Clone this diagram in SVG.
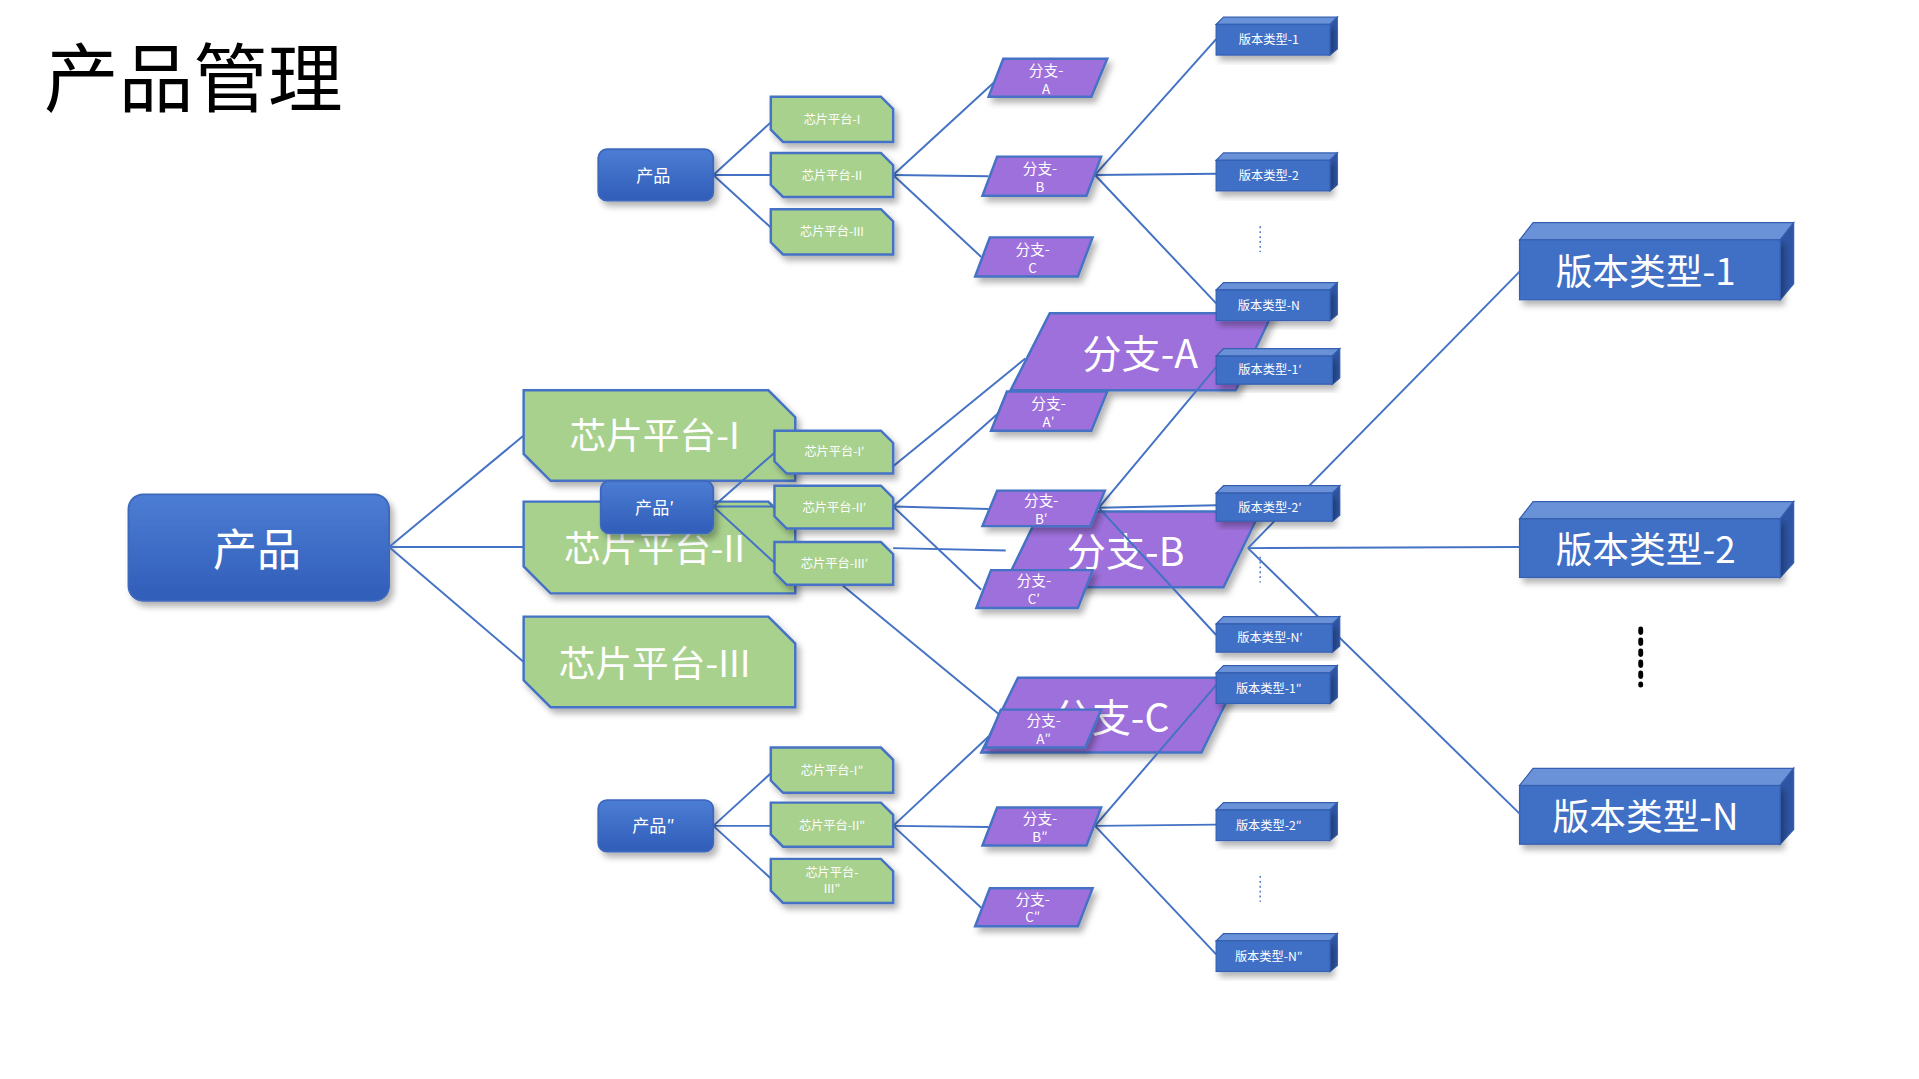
<svg xmlns="http://www.w3.org/2000/svg" width="1919" height="1079" viewBox="0 0 1919 1079">
<defs>
<linearGradient id="gb" x1="0" y1="0" x2="0" y2="1"><stop offset="0" stop-color="#4D7DD4"/><stop offset="1" stop-color="#2F5DB8"/></linearGradient>
<filter id="sh" x="-10%" y="-10%" width="130%" height="140%"><feDropShadow dx="3" dy="4" stdDeviation="2.5" flood-color="#000" flood-opacity="0.3"/></filter>
</defs>
<style>
text{font-family:"Noto Sans CJK SC","Noto Sans",sans-serif;fill:#fff;text-anchor:middle;dominant-baseline:central}
.g{fill:#A9D18E;stroke:#4472C4;stroke-width:2;filter:url(#sh)}
.p{fill:#9E70DC;stroke:#4472C4;stroke-width:2;filter:url(#sh)}
.b{fill:url(#gb);stroke:#3C67BC;stroke-width:1.5;filter:url(#sh)}
.f{fill:#3F6FC6;stroke:#355FB0;stroke-width:1}
.t{fill:#6A92D8;stroke:#355FB0;stroke-width:1}
.s{fill:#2E55A4;stroke:#355FB0;stroke-width:1}
.c line{stroke:#4472C4;stroke-width:1.6}
.d{stroke:#4472C4;stroke-width:1.2;stroke-dasharray:1.5 2.5}
</style>
<rect width="1919" height="1079" fill="#fff"/>
<g transform="scale(1.2235)">
<text x="36" y="60" style="fill:#000;font-size:61px;text-anchor:start">产品管理</text>

<!-- big nodes -->
<g id="prod"><rect class="b" x="105" y="404" width="213" height="87" rx="12"/><text x="210" y="447" font-size="36">产品</text></g>
<g id="chipI"><polygon class="g" points="428,319 628,319 650,341 650,393 450,393 428,371"/><text x="535" y="354" font-size="30">芯片平台-I</text></g>
<g id="chipII"><polygon class="g" points="428,410 628,410 650,432 650,485 450,485 428,463"/><text x="535" y="446" font-size="30">芯片平台-II</text></g>
<g id="chipIII"><polygon class="g" points="428,504 628,504 650,526 650,578 450,578 428,556"/><text x="535" y="540" font-size="30">芯片平台-III</text></g>
<g id="brA"><polygon class="p" points="858,256 1040,256 1010,319 826,319"/><text x="932" y="287" font-size="32">分支-A</text></g>
<g id="brB"><polygon class="p" points="850,418 1030,418 1000,480 820,480"/><text x="920" y="449" font-size="32">分支-B</text></g>
<g id="brC"><polygon class="p" points="832,554 1012,554 982,615 802,615"/><text x="908" y="584" font-size="32">分支-C</text></g>
<g id="v1"><polygon class="t" points="1242,196 1455,196 1466,182 1253,182"/><polygon class="s" points="1455,196 1466,182 1466,232 1455,245"/><rect class="f" x="1242" y="196" width="213" height="49" filter="url(#sh)"/><text x="1345" y="220" font-size="30">版本类型-1</text></g>
<g id="v2"><polygon class="t" points="1242,424 1455,424 1466,410 1253,410"/><polygon class="s" points="1455,424 1466,410 1466,460 1455,472"/><rect class="f" x="1242" y="424" width="213" height="48" filter="url(#sh)"/><text x="1345" y="447" font-size="30">版本类型-2</text></g>
<g id="vN"><polygon class="t" points="1242,642 1455,642 1466,628 1253,628"/><polygon class="s" points="1455,642 1466,628 1466,678 1455,690"/><rect class="f" x="1242" y="642" width="213" height="48" filter="url(#sh)"/><text x="1345" y="665" font-size="30">版本类型-N</text></g>
<line x1="1341" y1="514" x2="1341" y2="560" stroke="#000" stroke-width="4" stroke-dasharray="3 6" stroke-linecap="round"/>

<g class="c" id="connectors">
<line x1="318" y1="447" x2="428" y2="356"/><line x1="318" y1="447" x2="428" y2="447"/><line x1="318" y1="447" x2="428" y2="541"/>
<line x1="730" y1="381" x2="838" y2="293"/><line x1="730" y1="448" x2="822" y2="450"/><line x1="688" y1="478" x2="818" y2="585"/>
<line x1="1020" y1="448" x2="1242" y2="222"/><line x1="1020" y1="448" x2="1242" y2="447"/><line x1="1020" y1="448" x2="1242" y2="665"/>
<line x1="583" y1="143" x2="630" y2="100"/><line x1="583" y1="143" x2="630" y2="143"/><line x1="583" y1="143" x2="630" y2="186"/>
<line x1="730" y1="143" x2="815" y2="65"/><line x1="730" y1="143" x2="808" y2="144"/><line x1="730" y1="143" x2="802" y2="210"/>
<line x1="895" y1="143" x2="994" y2="32"/><line x1="895" y1="143" x2="994" y2="142"/><line x1="895" y1="143" x2="994" y2="248"/>
<line x1="583" y1="414" x2="633" y2="370"/><line x1="583" y1="414" x2="633" y2="414"/><line x1="583" y1="414" x2="633" y2="460"/>
<line x1="730" y1="414" x2="818" y2="336"/><line x1="730" y1="414" x2="808" y2="416"/><line x1="730" y1="414" x2="802" y2="482"/>
<line x1="898" y1="415" x2="994" y2="300"/><line x1="898" y1="415" x2="994" y2="413"/><line x1="898" y1="415" x2="994" y2="519"/>
<line x1="583" y1="675" x2="630" y2="632"/><line x1="583" y1="675" x2="630" y2="675"/><line x1="583" y1="675" x2="630" y2="718"/>
<line x1="730" y1="675" x2="808" y2="602"/><line x1="730" y1="675" x2="808" y2="676"/><line x1="730" y1="675" x2="802" y2="742"/>
<line x1="895" y1="675" x2="994" y2="560"/><line x1="895" y1="675" x2="994" y2="674"/><line x1="895" y1="675" x2="994" y2="780"/>
</g>
<line class="d" x1="1030" y1="185" x2="1030" y2="206"/><line class="d" x1="1030" y1="455" x2="1030" y2="476"/><line class="d" x1="1030" y1="716" x2="1030" y2="737"/>

<!-- top cluster -->
<g id="p0"><rect class="b" x="489" y="122" width="94" height="42" rx="7"/><text x="534" y="143" font-size="14">产品</text></g>
<g id="c01"><polygon class="g" points="630,79 720,79 730,89 730,116 640,116 630,106"/><text x="680" y="97" font-size="10">芯片平台-I</text></g>
<g id="c02"><polygon class="g" points="630,125 720,125 730,135 730,161 640,161 630,151"/><text x="680" y="143" font-size="10">芯片平台-II</text></g>
<g id="c03"><polygon class="g" points="630,171 720,171 730,181 730,208 640,208 630,198"/><text x="680" y="189" font-size="10">芯片平台-III</text></g>
<g id="b01"><polygon class="p" points="820,48 905,48 892,79 808,79"/><text x="855" y="57" font-size="12">分支-</text><text x="855" y="72" font-size="11">A</text></g>
<g id="b02"><polygon class="p" points="815,128 900,128 888,160 803,160"/><text x="850" y="137" font-size="12">分支-</text><text x="850" y="152" font-size="11">B</text></g>
<g id="b03"><polygon class="p" points="809,194 893,194 881,226 797,226"/><text x="844" y="203" font-size="12">分支-</text><text x="844" y="218" font-size="11">C</text></g>
<g id="v01"><polygon class="t" points="994,20 1087,20 1093,14 1000,14"/><polygon class="s" points="1087,20 1093,14 1093,40 1087,45"/><rect class="f" x="994" y="20" width="93" height="25" filter="url(#sh)"/><text x="1037" y="32" font-size="10">版本类型-1</text></g>
<g id="v02"><polygon class="t" points="994,131 1087,131 1093,125 1000,125"/><polygon class="s" points="1087,131 1093,125 1093,151 1087,156"/><rect class="f" x="994" y="131" width="93" height="25" filter="url(#sh)"/><text x="1037" y="143" font-size="10">版本类型-2</text></g>
<g id="v0N"><polygon class="t" points="994,237 1087,237 1093,231 1000,231"/><polygon class="s" points="1087,237 1093,231 1093,257 1087,262"/><rect class="f" x="994" y="237" width="93" height="25" filter="url(#sh)"/><text x="1037" y="249" font-size="10">版本类型-N</text></g>

<!-- middle cluster -->
<g id="c11"><polygon class="g" points="633,352 720,352 730,362 730,387 643,387 633,377"/><text x="682" y="369" font-size="10">芯片平台-I′</text></g>
<g id="c12"><polygon class="g" points="633,397 720,397 730,407 730,432 643,432 633,422"/><text x="682" y="414" font-size="10">芯片平台-II′</text></g>
<g id="c13"><polygon class="g" points="633,443 720,443 730,453 730,478 643,478 633,468"/><text x="682" y="460" font-size="10">芯片平台-III′</text></g>
<g id="p1"><rect class="b" x="491" y="393" width="92" height="43" rx="7"/><text x="535" y="414" font-size="14">产品′</text></g>
<g id="b11"><polygon class="p" points="823,320 905,320 892,352 810,352"/><text x="857" y="329" font-size="12">分支-</text><text x="857" y="344" font-size="11">A′</text></g>
<g id="b12"><polygon class="p" points="815,401 903,401 891,430 803,430"/><text x="851" y="408" font-size="12">分支-</text><text x="851" y="423" font-size="11">B′</text></g>
<g id="b13"><polygon class="p" points="810,466 893,466 881,497 798,497"/><text x="845" y="474" font-size="12">分支-</text><text x="845" y="489" font-size="11">C′</text></g>
<g id="v11"><polygon class="t" points="994,291 1089,291 1095,285 1000,285"/><polygon class="s" points="1089,291 1095,285 1095,309 1089,314"/><rect class="f" x="994" y="291" width="95" height="23" filter="url(#sh)"/><text x="1038" y="302" font-size="10">版本类型-1′</text></g>
<g id="v12"><polygon class="t" points="994,403 1089,403 1095,397 1000,397"/><polygon class="s" points="1089,403 1095,397 1095,421 1089,426"/><rect class="f" x="994" y="403" width="95" height="23" filter="url(#sh)"/><text x="1038" y="414" font-size="10">版本类型-2′</text></g>
<g id="v1N"><polygon class="t" points="994,510 1089,510 1095,504 1000,504"/><polygon class="s" points="1089,510 1095,504 1095,528 1089,533"/><rect class="f" x="994" y="510" width="95" height="23" filter="url(#sh)"/><text x="1038" y="521" font-size="10">版本类型-N′</text></g>

<!-- bottom cluster -->
<g id="p2"><rect class="b" x="489" y="654" width="94" height="42" rx="7"/><text x="534" y="674" font-size="14">产品″</text></g>
<g id="c21"><polygon class="g" points="630,611 720,611 730,621 730,648 640,648 630,638"/><text x="680" y="629" font-size="10">芯片平台-I″</text></g>
<g id="c22"><polygon class="g" points="630,656 720,656 730,666 730,692 640,692 630,682"/><text x="680" y="674" font-size="10">芯片平台-II″</text></g>
<g id="c23"><polygon class="g" points="630,702 720,702 730,712 730,738 640,738 630,728"/><text x="680" y="713" font-size="10">芯片平台-</text><text x="680" y="726" font-size="10">III″</text></g>
<g id="b21"><polygon class="p" points="818,580 900,580 887,611 805,611"/><text x="853" y="588" font-size="12">分支-</text><text x="853" y="603" font-size="11">A″</text></g>
<g id="b22"><polygon class="p" points="815,660 900,660 888,691 803,691"/><text x="850" y="668" font-size="12">分支-</text><text x="850" y="683" font-size="11">B″</text></g>
<g id="b23"><polygon class="p" points="809,726 893,726 881,757 797,757"/><text x="844" y="734" font-size="12">分支-</text><text x="844" y="749" font-size="11">C″</text></g>
<g id="v21"><polygon class="t" points="994,550 1087,550 1093,544 1000,544"/><polygon class="s" points="1087,550 1093,544 1093,570 1087,575"/><rect class="f" x="994" y="550" width="93" height="25" filter="url(#sh)"/><text x="1037" y="562" font-size="10">版本类型-1″</text></g>
<g id="v22"><polygon class="t" points="994,662 1087,662 1093,656 1000,656"/><polygon class="s" points="1087,662 1093,656 1093,682 1087,687"/><rect class="f" x="994" y="662" width="93" height="25" filter="url(#sh)"/><text x="1037" y="674" font-size="10">版本类型-2″</text></g>
<g id="v2N"><polygon class="t" points="994,769 1087,769 1093,763 1000,763"/><polygon class="s" points="1087,769 1093,763 1093,789 1087,794"/><rect class="f" x="994" y="769" width="93" height="25" filter="url(#sh)"/><text x="1037" y="781" font-size="10">版本类型-N″</text></g>
</g>
</svg>
